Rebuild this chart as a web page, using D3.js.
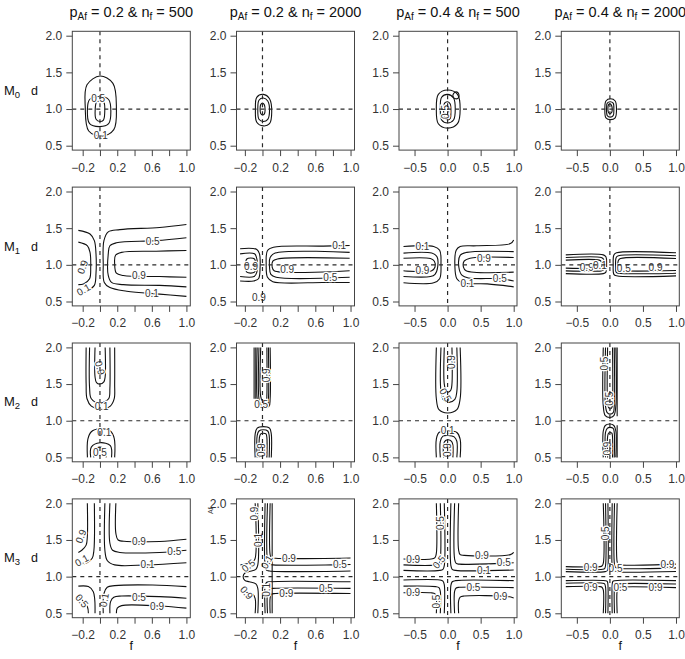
<!DOCTYPE html>
<html><head><meta charset="utf-8">
<script src="https://cdn.jsdelivr.net/npm/d3@7"></script>
<style>
body{margin:0;background:#fff;}
text{font-family:"Liberation Sans",Arial,sans-serif;}
</style></head>
<body><svg id="c" width="685" height="659"></svg>
<script>
// ---- data ----
const pAf = ["0.2","0.2","0.4","0.4"];
const nf = ["500","2000","500","2000"];
const models = ["0","1","2","3"];
const yTicks = [0.5,1.0,1.5,2.0];
const xTicksNarrow = [-0.2,0,0.2,0.4,0.6,0.8,1.0];
const xLabelsNarrow = [-0.2,0.2,0.6,1.0];
const xTicksWide = [-0.5,0,0.5,1.0];
const xLabelsWide = [-0.5,0,0.5,1.0];

// contour lines: [level, closed?, points [f,d]]
const P11 = [
 ["0.1",1,[[-0.17,1.02],[-0.15,1.33],[0.0,1.45],[0.15,1.35],[0.19,1.02],[0.16,0.72],[0.02,0.63],[-0.13,0.7]]],
 ["0.5",1,[[-0.145,1.0],[-0.12,1.13],[-0.01,1.17],[0.1,1.13],[0.126,0.97],[0.1,0.8],[0.0,0.76],[-0.12,0.8]]],
 ["0.9",1,[[-0.055,1.0],[-0.04,1.09],[0.0,1.11],[0.045,1.09],[0.055,0.95],[0.04,0.85],[0.0,0.83],[-0.045,0.86]]]];
const L11 = [[0.01,0.64,"0.1",0],[-0.02,1.15,"0.5",0]];
const P12 = [
 ["0.1",1,[[-0.08,1.0],[-0.065,1.16],[0.01,1.2],[0.08,1.14],[0.105,0.96],[0.08,0.8],[0.01,0.77],[-0.065,0.82]]],
 ["0.5",1,[[-0.053,1.0],[-0.04,1.12],[0.01,1.15],[0.06,1.11],[0.08,0.98],[0.06,0.86],[0.01,0.83],[-0.04,0.86]]],
 ["0.9",1,[[-0.027,1.0],[-0.02,1.06],[0.0,1.08],[0.02,1.06],[0.03,0.99],[0.02,0.93],[0.0,0.92],[-0.02,0.94]]]];
const L12 = [];
const P13 = [
 ["0.1",1,[[-0.17,1.0],[-0.14,1.2],[0.0,1.26],[0.15,1.2],[0.19,1.0],[0.15,0.8],[0.0,0.74],[-0.14,0.8]]],
 ["0.5",1,[[-0.11,1.0],[-0.09,1.16],[0.0,1.2],[0.09,1.15],[0.116,1.0],[0.09,0.85],[0.0,0.81],[-0.09,0.85]]],
 ["0.9",1,[[-0.06,0.98],[-0.045,1.08],[0.0,1.1],[0.04,1.07],[0.05,0.95],[0.04,0.87],[0.0,0.85],[-0.045,0.88]]],
 ["0.5",1,[[0.08,1.18],[0.11,1.23],[0.16,1.22],[0.17,1.16],[0.12,1.14]]]];
const L13 = [[-0.03,0.96,"0.5",-90]];
const P14 = [
 ["0.1",1,[[-0.076,1.0],[-0.06,1.11],[0.01,1.14],[0.08,1.11],[0.1,1.0],[0.08,0.88],[0.01,0.855],[-0.06,0.88]]],
 ["0.5",1,[[-0.05,1.0],[-0.04,1.08],[0.005,1.1],[0.05,1.08],[0.06,0.99],[0.05,0.91],[0.005,0.89],[-0.04,0.91]]],
 ["0.9",1,[[-0.03,1.0],[-0.02,1.06],[0.0,1.07],[0.025,1.05],[0.035,0.99],[0.025,0.95],[0.0,0.94],[-0.02,0.95]]]];
const L14 = [];

const P21 = [
 ["0.1",0,[[-0.25,1.47],[-0.115,1.42],[-0.065,1.33],[-0.046,1.15],[-0.046,0.88],[-0.065,0.72],[-0.145,0.65],[-0.25,0.61]]],
 ["0.9",0,[[-0.25,1.31],[-0.145,1.26],[-0.115,1.17],[-0.107,0.97],[-0.12,0.81],[-0.19,0.74],[-0.25,0.73]]],
 ["0.1",0,[[1.0,1.55],[0.69,1.51],[0.23,1.48],[0.096,1.45],[0.046,1.33],[0.038,1.01],[0.05,0.76],[0.115,0.69],[0.31,0.64],[0.69,0.6],[1.0,0.57]]],
 ["0.5",0,[[1.0,1.37],[0.65,1.33],[0.19,1.3],[0.115,1.26],[0.096,1.15],[0.096,0.855],[0.134,0.76],[0.27,0.73],[0.69,0.72],[1.0,0.7]]],
 ["0.9",0,[[1.0,1.195],[0.65,1.186],[0.25,1.17],[0.18,1.13],[0.17,1.01],[0.19,0.886],[0.27,0.855],[0.69,0.84],[1.0,0.83]]]];
const L21 = [[-0.2,0.97,"0.9",-70],[-0.19,0.66,"0.1",-30],[0.61,1.32,"0.5",0],[0.45,0.85,"0.9",0],[0.6,0.61,"0.1",0]];
const P22 = [
 ["0.1",0,[[-0.254,1.22],[-0.064,1.21],[-0.034,1.15],[-0.027,0.97],[-0.045,0.81],[-0.1,0.78],[-0.254,0.78]]],
 ["0.5",0,[[-0.254,1.15],[-0.09,1.15],[-0.064,1.08],[-0.064,0.9],[-0.095,0.84],[-0.254,0.84]]],
 ["0.9",1,[[-0.178,1.08],[-0.09,1.08],[-0.08,0.99],[-0.09,0.9],[-0.178,0.9],[-0.19,0.99]]],
 ["0.1",0,[[0.99,1.264],[0.69,1.255],[0.125,1.24],[0.057,1.195],[0.042,1.01],[0.057,0.83],[0.117,0.77],[0.69,0.76],[0.99,0.76]]],
 ["0.5",0,[[0.99,1.17],[0.144,1.16],[0.087,1.1],[0.08,0.97],[0.095,0.87],[0.155,0.83],[0.99,0.83]]],
 ["0.9",0,[[0.99,1.09],[0.17,1.08],[0.117,1.05],[0.11,0.97],[0.133,0.92],[0.99,0.92]]]];
const L22 = [[-0.13,0.98,"0.9",0],[-0.04,0.56,"0.9",0],[0.87,1.26,"0.1",0],[0.77,0.83,"0.5",0],[0.28,0.93,"0.9",0]];
const P23 = [
 ["0.1",0,[[-0.667,1.25],[-0.21,1.25],[-0.12,1.2],[-0.1,1.01],[-0.12,0.81],[-0.21,0.755],[-0.667,0.755]]],
 ["0.5",0,[[-0.667,1.16],[-0.24,1.16],[-0.16,1.11],[-0.15,0.97],[-0.19,0.87],[-0.26,0.84],[-0.667,0.84]]],
 ["0.9",0,[[-0.667,1.09],[-0.26,1.086],[-0.2,1.05],[-0.19,0.97],[-0.24,0.92],[-0.667,0.92]]],
 ["0.1",0,[[1.0,1.34],[0.95,1.29],[0.44,1.26],[0.19,1.25],[0.13,1.2],[0.11,0.99],[0.14,0.81],[0.22,0.755],[0.6,0.74],[1.0,0.7]]],
 ["0.5",0,[[1.0,1.18],[0.29,1.17],[0.19,1.13],[0.17,0.97],[0.22,0.855],[0.32,0.82],[0.8,0.81],[1.0,0.78]]],
 ["0.9",0,[[1.0,1.1],[0.34,1.09],[0.25,1.05],[0.24,0.97],[0.28,0.92],[1.0,0.9]]]];
const L23 = [[-0.38,1.25,"0.1",0],[-0.38,0.92,"0.9",0],[0.3,0.745,"0.1",0],[0.79,0.815,"0.5",0],[0.55,1.09,"0.9",0]];
const P24 = [
 ["0.1",0,[[-0.667,1.136],[-0.1,1.136],[-0.06,1.11],[-0.05,1.0],[-0.06,0.9],[-0.1,0.88],[-0.667,0.88]]],
 ["0.5",0,[[-0.667,1.1],[-0.13,1.1],[-0.095,1.075],[-0.086,1.0],[-0.095,0.93],[-0.13,0.918],[-0.667,0.918]]],
 ["0.9",0,[[-0.667,1.064],[-0.16,1.064],[-0.128,1.04],[-0.12,1.0],[-0.128,0.965],[-0.16,0.955],[-0.667,0.955]]],
 ["0.1",0,[[1.0,1.164],[0.1,1.164],[0.06,1.135],[0.05,1.0],[0.06,0.87],[0.1,0.85],[1.0,0.85]]],
 ["0.5",0,[[1.0,1.123],[0.13,1.123],[0.095,1.1],[0.086,1.0],[0.095,0.9],[0.13,0.886],[1.0,0.886]]],
 ["0.9",0,[[1.0,1.086],[0.16,1.086],[0.128,1.06],[0.12,1.0],[0.128,0.935],[0.16,0.923],[1.0,0.923]]]];
const L24 = [[-0.35,0.96,"0.9",0],[-0.15,0.99,"0.1",0],[0.21,0.945,"0.5",0],[0.69,0.97,"0.9",0]];

const P31 = [
 ["0.1",0,[[-0.16,2.0],[-0.16,1.5],[-0.15,1.3],[-0.1,1.2],[0.0,1.16],[0.12,1.2],[0.165,1.3],[0.17,1.5],[0.17,2.0]]],
 ["0.5",0,[[-0.12,2.0],[-0.12,1.45],[-0.1,1.3],[0.0,1.24],[0.1,1.3],[0.115,1.45],[0.115,2.0]]],
 ["0.9",0,[[-0.057,2.0],[-0.057,1.6],[-0.04,1.52],[0.0,1.5],[0.045,1.53],[0.06,1.6],[0.06,2.0]]],
 ["0.1",0,[[-0.145,0.5],[-0.14,0.75],[-0.1,0.85],[0.0,0.89],[0.12,0.86],[0.165,0.76],[0.17,0.5]]],
 ["0.5",0,[[-0.107,0.5],[-0.1,0.64],[0.0,0.7],[0.12,0.66],[0.134,0.5]]],
 ["0.9",0,[[-0.07,0.5],[-0.06,0.6],[0.0,0.64],[0.06,0.6],[0.07,0.5]]]];
const L31 = [[0.02,1.2,"0.1",0],[0.0,1.72,"0.9",75],[0.05,0.84,"0.1",0],[0.0,0.57,"0.5",0]];
const P32 = [
 ["0.1",0,[[-0.095,2.0],[-0.095,1.3]]],
 ["0.1",0,[[-0.076,2.0],[-0.076,1.3]]],
 ["0.1",0,[[-0.06,2.0],[-0.06,1.3],[-0.04,1.2],[0.02,1.17],[0.075,1.2],[0.087,1.3],[0.087,2.0]]],
 ["0.5",0,[[-0.04,2.0],[-0.04,1.3],[-0.02,1.22],[0.02,1.2],[0.06,1.23],[0.068,1.3],[0.068,2.0]]],
 ["0.9",0,[[-0.02,2.0],[-0.02,1.33],[0.0,1.27],[0.03,1.26],[0.045,1.28],[0.05,1.35],[0.05,2.0]]],
 ["0.1",0,[[-0.083,0.5],[-0.083,0.82],[-0.06,0.9],[0.01,0.92],[0.08,0.9],[0.1,0.82],[0.1,0.5]]],
 ["0.5",0,[[-0.06,0.5],[-0.06,0.8],[-0.04,0.86],[0.01,0.877],[0.06,0.86],[0.076,0.8],[0.076,0.5]]],
 ["0.9",0,[[-0.035,0.5],[-0.035,0.77],[-0.02,0.82],[0.01,0.83],[0.04,0.82],[0.05,0.77],[0.05,0.5]]]];
const L32 = [[0.04,1.62,"0.9",-90],[-0.015,1.22,"0.5",0],[-0.01,0.6,"0.9",-90]];
const P33 = [
 ["0.1",0,[[-0.17,2.0],[-0.17,1.3],[-0.13,1.15],[0.0,1.105],[0.14,1.15],[0.19,1.3],[0.19,2.0]]],
 ["0.5",0,[[-0.1,2.0],[-0.1,1.4],[-0.06,1.28],[0.02,1.25],[0.11,1.29],[0.14,1.4],[0.14,2.0]]],
 ["0.9",0,[[-0.05,2.0],[-0.05,1.5],[-0.02,1.4],[0.01,1.39],[0.05,1.42],[0.066,1.5],[0.066,2.0]]],
 ["0.1",0,[[-0.17,0.5],[-0.17,0.75],[-0.13,0.84],[0.0,0.864],[0.14,0.84],[0.19,0.75],[0.19,0.5]]],
 ["0.5",0,[[-0.11,0.5],[-0.11,0.72],[-0.07,0.79],[0.01,0.8],[0.1,0.78],[0.14,0.72],[0.14,0.5]]],
 ["0.9",0,[[-0.06,0.5],[-0.06,0.68],[-0.03,0.73],[0.01,0.74],[0.06,0.72],[0.08,0.67],[0.08,0.5]]]];
const L33 = [[0.06,1.8,"0.9",-90],[-0.03,1.35,"0.5",60],[0.0,0.87,"0.1",0],[0.0,0.6,"0.9",-90]];
const P34 = [
 ["0.1",0,[[-0.1,2.0],[-0.1,1.2],[-0.07,1.07],[0.0,1.045],[0.06,1.07],[0.09,1.2],[0.09,2.0]]],
 ["0.5",0,[[-0.066,2.0],[-0.066,1.2],[-0.04,1.11],[0.0,1.09],[0.05,1.11],[0.066,1.2],[0.066,2.0]]],
 ["0.9",0,[[-0.035,2.0],[-0.035,1.25],[-0.02,1.18],[0.005,1.16],[0.03,1.18],[0.04,1.25],[0.04,2.0]]],
 ["0.1",0,[[0.11,2.0],[0.11,1.06]]],
 ["0.1",0,[[-0.1,0.5],[-0.1,0.86],[-0.07,0.935],[0.0,0.955],[0.06,0.935],[0.09,0.86],[0.09,0.5]]],
 ["0.5",0,[[-0.066,0.5],[-0.066,0.84],[-0.04,0.895],[0.0,0.91],[0.05,0.895],[0.066,0.84],[0.066,0.5]]],
 ["0.9",0,[[-0.035,0.5],[-0.035,0.78],[-0.02,0.83],[0.005,0.84],[0.03,0.83],[0.04,0.78],[0.04,0.5]]],
 ["0.1",0,[[0.11,0.5],[0.11,0.94]]]];
const L34 = [[-0.08,1.78,"0.5",-90],[0.0,1.3,"0.5",-90],[-0.03,0.62,"0.9",-90]];

const P41 = [
 ["0.9",0,[[-0.146,2.0],[-0.146,1.545],[-0.16,1.43],[-0.21,1.36],[-0.25,1.33]]],
 ["0.1",0,[[-0.065,2.0],[-0.07,1.36],[-0.09,1.25],[-0.15,1.19],[-0.25,1.16]]],
 ["0.1",0,[[0.057,2.0],[0.057,1.36],[0.084,1.22],[0.17,1.16],[0.54,1.16],[1.0,1.19]]],
 ["0.5",0,[[0.115,2.0],[0.115,1.455],[0.146,1.36],[0.23,1.33],[0.69,1.33],[1.0,1.36]]],
 ["0.9",0,[[0.184,2.0],[0.184,1.59],[0.21,1.5],[0.31,1.48],[0.69,1.48],[1.0,1.51]]],
 ["0.1",0,[[-0.25,0.87],[-0.134,0.864],[-0.077,0.795],[-0.06,0.68],[-0.057,0.5]]],
 ["0.5",0,[[-0.25,0.73],[-0.19,0.66],[-0.145,0.59],[-0.134,0.5]]],
 ["0.1",0,[[0.038,0.5],[0.046,0.77],[0.084,0.855],[0.17,0.877],[0.61,0.886],[1.0,0.864]]],
 ["0.5",0,[[0.115,0.5],[0.123,0.66],[0.16,0.72],[0.25,0.736],[0.69,0.727],[1.0,0.705]]],
 ["0.9",0,[[0.19,0.5],[0.2,0.57],[0.25,0.605],[0.69,0.6],[1.0,0.57]]]];
const L41 = [[-0.22,1.55,"0.9",-70],[-0.21,1.22,"0.1",-30],[0.55,1.16,"0.1",0],[0.86,1.34,"0.5",0],[0.45,1.48,"0.9",0],
 [-0.21,0.67,"0.5",50],[0.05,0.68,"0.1",-80],[0.45,0.72,"0.5",0],[0.66,0.59,"0.9",0]];
const P42 = [
 ["0.1",0,[[0.03,2.0],[0.03,1.15],[0.045,1.09],[0.08,1.077],[1.0,1.077]]],
 ["0.5",0,[[0.057,2.0],[0.057,1.22],[0.075,1.17],[0.12,1.16],[0.8,1.16],[1.0,1.165]]],
 ["0.9",0,[[0.087,2.0],[0.087,1.3],[0.1,1.26],[0.15,1.25],[1.0,1.255]]],
 ["0.9",0,[[0.11,2.0],[0.11,0.5]]],
 ["0.1",0,[[0.03,0.5],[0.03,0.87],[0.045,0.92],[0.08,0.93],[1.0,0.93]]],
 ["0.5",0,[[0.057,0.5],[0.057,0.78],[0.075,0.83],[0.12,0.84],[1.0,0.84]]],
 ["0.9",0,[[0.087,0.5],[0.087,0.71],[0.1,0.76],[0.15,0.77],[1.0,0.77]]],
 ["0.1",0,[[-0.053,2.0],[-0.053,1.16],[-0.075,1.1],[-0.15,1.07],[-0.2,1.05],[-0.22,1.0],[-0.2,0.95],[-0.15,0.93],[-0.075,0.9],[-0.053,0.84],[-0.053,0.5]]],
 ["0.5",0,[[-0.083,2.0],[-0.083,1.25],[-0.11,1.2],[-0.2,1.17],[-0.25,1.16]]],
 ["0.5",0,[[-0.25,0.8],[-0.2,0.79],[-0.11,0.76],[-0.083,0.7],[-0.083,0.5]]]];
const L42 = [[-0.09,1.86,"0.9",-90],[-0.045,1.5,"0.1",-90],[-0.16,1.15,"0.5",-40],[-0.18,0.78,"0.9",50],[0.05,1.2,"0.1",-60],
 [0.3,1.25,"0.9",0],[0.88,1.16,"0.5",0],[0.72,0.84,"0.5",0],[0.27,0.77,"0.9",0],[0.05,0.82,"0.1",-90]];
const P43 = [
 ["0.1",0,[[-0.05,2.0],[-0.05,1.15],[-0.07,1.1],[-0.12,1.085],[-0.667,1.085]]],
 ["0.5",0,[[-0.11,2.0],[-0.11,1.24],[-0.13,1.18],[-0.18,1.16],[-0.667,1.16]]],
 ["0.9",0,[[-0.17,2.0],[-0.17,1.32],[-0.19,1.26],[-0.25,1.24],[-0.667,1.24]]],
 ["0.1",0,[[0.05,2.0],[0.05,1.15],[0.07,1.1],[0.12,1.085],[1.0,1.09]]],
 ["0.5",0,[[0.106,2.0],[0.106,1.24],[0.13,1.18],[0.18,1.17],[1.0,1.19]]],
 ["0.9",0,[[0.167,2.0],[0.167,1.36],[0.19,1.3],[0.25,1.29],[0.95,1.3],[1.0,1.33]]],
 ["0.1",0,[[-0.05,0.5],[-0.05,0.89],[-0.07,0.94],[-0.12,0.955],[-0.667,0.955]]],
 ["0.5",0,[[-0.11,0.5],[-0.11,0.8],[-0.13,0.85],[-0.18,0.864],[-0.667,0.87]]],
 ["0.9",0,[[-0.17,0.5],[-0.17,0.72],[-0.19,0.765],[-0.25,0.78],[-0.667,0.78]]],
 ["0.1",0,[[0.05,0.5],[0.05,0.88],[0.07,0.93],[0.12,0.945],[1.0,0.945]]],
 ["0.5",0,[[0.106,0.5],[0.106,0.8],[0.13,0.845],[0.18,0.855],[1.0,0.85]]],
 ["0.9",0,[[0.167,0.5],[0.167,0.67],[0.19,0.72],[0.25,0.735],[0.9,0.73],[1.0,0.71]]]];
const L43 = [[-0.52,1.24,"0.9",0],[-0.11,1.73,"0.5",-90],[-0.13,1.2,"0.5",-50],[0.55,1.085,"0.1",0],[0.85,1.19,"0.5",0],[0.52,1.29,"0.9",0],
 [-0.52,0.78,"0.9",0],[-0.17,0.66,"0.5",-90],[0.39,0.853,"0.5",0],[0.8,0.73,"0.9",0]];
const P44 = [
 ["0.1",0,[[-0.03,2.0],[-0.03,1.12],[-0.04,1.08],[-0.07,1.068],[-0.667,1.068]]],
 ["0.5",0,[[-0.066,2.0],[-0.066,1.15],[-0.08,1.11],[-0.11,1.1],[-0.667,1.1]]],
 ["0.9",0,[[-0.1,2.0],[-0.1,1.18],[-0.12,1.145],[-0.15,1.136],[-0.667,1.136]]],
 ["0.1",0,[[0.035,2.0],[0.035,1.12],[0.045,1.08],[0.07,1.068],[1.0,1.07]]],
 ["0.5",0,[[0.07,2.0],[0.07,1.16],[0.085,1.125],[0.11,1.114],[1.0,1.12]]],
 ["0.9",0,[[0.11,2.0],[0.11,1.2],[0.125,1.17],[0.15,1.16],[1.0,1.17]]],
 ["0.1",0,[[-0.03,0.5],[-0.03,0.89],[-0.04,0.935],[-0.07,0.945],[-0.667,0.945]]],
 ["0.5",0,[[-0.066,0.5],[-0.066,0.86],[-0.08,0.9],[-0.11,0.91],[-0.667,0.91]]],
 ["0.9",0,[[-0.1,0.5],[-0.1,0.82],[-0.12,0.855],[-0.15,0.864],[-0.667,0.864]]],
 ["0.1",0,[[0.035,0.5],[0.035,0.89],[0.045,0.935],[0.07,0.945],[1.0,0.945]]],
 ["0.5",0,[[0.07,0.5],[0.07,0.85],[0.085,0.89],[0.11,0.9],[1.0,0.9]]],
 ["0.9",0,[[0.11,0.5],[0.11,0.81],[0.125,0.845],[0.15,0.855],[1.0,0.85]]]];
const L44 = [[-0.29,1.127,"0.9",0],[0.086,1.11,"0.5",0],[0.87,1.16,"0.9",0],[-0.29,0.855,"0.9",0],[0.16,0.855,"0.5",0],[0.69,0.855,"0.9",0],[-0.066,1.59,"0.5",-90]];

const contourGrid = [[P11,P12,P13,P14],[P21,P22,P23,P24],[P31,P32,P33,P34],[P41,P42,P43,P44]];
const labelGrid = [[L11,L12,L13,L14],[L21,L22,L23,L24],[L31,L32,L33,L34],[L41,L42,L43,L44]];

// ---- layout ----
const svg = d3.select("#c");
const boxW = 118;
const colLeft = [72.3, 236.5, 399, 561.3];
const colDomain = [[-0.32,1.045],[-0.295,1.045],[-0.735,1.05],[-0.735,1.05]];
const rowTop2 = [35.7, 191.5, 347.4, 503.3];
const ink = "#2a2a2a";

// titles
pAf.forEach((p,c)=>{
  const cx = colLeft[c] + boxW/2;
  const t = svg.append("text").attr("x",cx).attr("y",17).attr("text-anchor","middle")
    .attr("font-size",14.5).attr("fill","#111");
  t.append("tspan").text("p");
  t.append("tspan").attr("font-size",10).attr("dy",3).text("Af");
  t.append("tspan").attr("dy",-3).text(" = "+p+" & n");
  t.append("tspan").attr("font-size",10).attr("dy",3).text("f");
  t.append("tspan").attr("dy",-3).text(" = "+nf[c]);
});

models.forEach((m,r)=>{
  const y = d3.scaleLinear().domain([0.5,2.0]).range([rowTop2[r]+110, rowTop2[r]]);
  const ymid = y(1.25);
  const ml = svg.append("text").attr("x",4).attr("y",ymid+4).attr("font-size",13).attr("fill","#111");
  ml.append("tspan").text("M");
  ml.append("tspan").attr("font-size",9.5).attr("dy",3).text(m);
  svg.append("text").attr("x",34.5).attr("y",ymid+4).attr("text-anchor","middle")
    .attr("font-size",12.5).attr("fill","#111").text("d");

  for(let c=0;c<4;c++){
    const x = d3.scaleLinear().domain(colDomain[c]).range([colLeft[c], colLeft[c]+boxW]);
    const g = svg.append("g");
    const x0 = x.range()[0], x1 = x.range()[1];
    const yb = y(0.44), yt = y(2.06);
    const clipId = "clip"+r+c;
    g.append("clipPath").attr("id",clipId).append("rect")
      .attr("x",x0).attr("y",yt).attr("width",x1-x0).attr("height",yb-yt);

    const pg = g.append("g").attr("clip-path","url(#"+clipId+")");
    contourGrid[r][c].forEach(cl=>{
      const line = d3.line().x(d=>x(d[0])).y(d=>y(d[1]))
        .curve(cl[1] ? d3.curveCatmullRomClosed.alpha(0.5) : d3.curveCatmullRom.alpha(0.5));
      pg.append("path").attr("d",line(cl[2])).attr("fill","none")
        .attr("stroke","#111").attr("stroke-width",1.1);
    });
    labelGrid[r][c].forEach(l=>{
      pg.append("text").attr("transform",`translate(${x(l[0])},${y(l[1])}) rotate(${l[3]})`)
        .attr("text-anchor","middle").attr("dy","0.35em").attr("font-size",10)
        .attr("fill","#333").attr("stroke","#fff").attr("stroke-width",2.5)
        .attr("paint-order","stroke").text(l[2]);
    });
    pg.append("line").attr("x1",x(0)).attr("x2",x(0)).attr("y1",yt).attr("y2",yb)
      .attr("stroke",ink).attr("stroke-width",1.2).attr("stroke-dasharray","4,4");
    pg.append("line").attr("x1",x0).attr("x2",x1).attr("y1",y(1)).attr("y2",y(1))
      .attr("stroke",ink).attr("stroke-width",1.2).attr("stroke-dasharray","4,4");

    g.append("rect").attr("x",x0).attr("y",yt).attr("width",x1-x0).attr("height",yb-yt)
      .attr("fill","none").attr("stroke","#444").attr("stroke-width",1);

    const narrow = c<2;
    const xt = narrow ? xTicksNarrow : xTicksWide;
    const xl = narrow ? xLabelsNarrow : xLabelsWide;
    const xa = d3.axisBottom(x).tickValues(xt).tickSize(6).tickSizeOuter(0)
      .tickFormat(v => xl.some(q=>Math.abs(q-v)<1e-9) ? d3.format(".1f")(v) : "");
    const gx = g.append("g").attr("transform",`translate(0,${yb})`).call(xa);
    gx.select(".domain").remove();
    gx.selectAll(".tick line").attr("stroke","#444");
    gx.selectAll(".tick text").attr("font-size",12).attr("fill","#333").attr("dy","1.05em")
      .attr("font-family","'Liberation Sans',Arial,sans-serif");

    const ya = d3.axisLeft(y).tickValues(yTicks).tickSize(6).tickSizeOuter(0).tickFormat(d3.format(".1f"));
    const gy = g.append("g").attr("transform",`translate(${x0},0)`).call(ya);
    gy.select(".domain").remove();
    gy.selectAll(".tick line").attr("stroke","#444");
    gy.selectAll(".tick text").attr("font-size",12).attr("fill","#333").attr("x",-10)
      .attr("font-family","'Liberation Sans',Arial,sans-serif");

    if(r===3){
      svg.append("text").attr("x",(x0+x1)/2).attr("y",650).attr("text-anchor","middle")
        .attr("font-size",12.5).attr("fill","#111").text("f");
    }
    if(r===3 && c===1){
      svg.append("text").attr("transform",`translate(${x(-0.56)},${y(1.9)}) rotate(-90)`)
        .attr("text-anchor","middle").attr("font-size",7).attr("fill","#444").text("Af");
    }
  }
});
</script></body></html>
